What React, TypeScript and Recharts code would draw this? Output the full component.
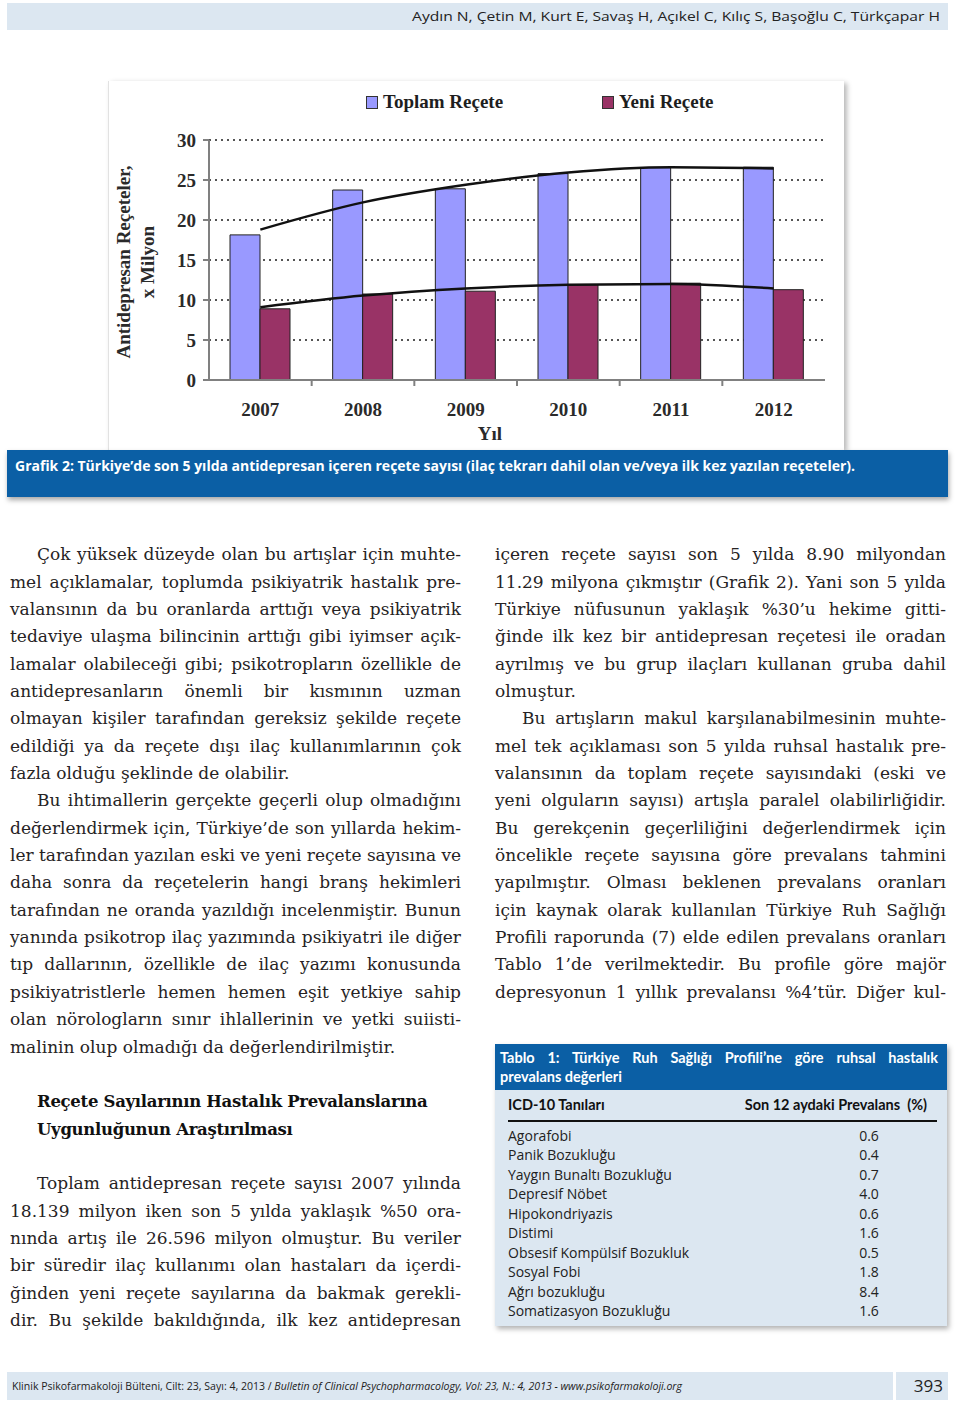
import React from 'react';
import { ComposedChart, Bar, Line, XAxis, YAxis, CartesianGrid, Legend, Label } from 'recharts';

// ---------- chart data ----------
const years = ['2007', '2008', '2009', '2010', '2011', '2012'];
const toplamRecete = [18.139, 23.75, 23.9, 25.8, 26.55, 26.596];
const yeniRecete = [8.9, 10.75, 11.1, 11.9, 12.1, 11.29];
const toplamTrend = [18.8, 22.2, 24.4, 25.95, 26.6, 26.45];
const yeniTrend = [9.1, 10.55, 11.45, 11.9, 12.0, 11.45];
const yTicks = [0, 5, 10, 15, 20, 25, 30];
const seriesNames = ['Toplam Reçete', 'Yeni Reçete'];
const seriesColors = ['#9999FF', '#993366'];
const yAxisTitle = ['Antidepresan Reçeteler,', 'x Milyon'];
const xAxisTitle = 'Yıl';

// ---------- page texts ----------
const headerText = 'Aydın N, Çetin M, Kurt E, Savaş H, Açıkel C, Kılıç S, Başoğlu C, Türkçapar H';
const captionText = 'Grafik 2: Türkiye’de son 5 yılda antidepresan içeren reçete sayısı (ilaç tekrarı dahil olan ve/veya  ilk kez yazılan reçeteler).';
const footerText1 = 'Klinik Psikofarmakoloji Bülteni, Cilt: 23, Sayı: 4, 2013 / ';
const footerText2 = 'Bulletin of Clinical Psychopharmacology, Vol: 23, N.: 4, 2013 - www.psikofarmakoloji.org';
const pageNumber = '393';

// kinds: i = indented justified, j = justified, l = last line, b = blank, h = heading
const leftLines: [string, string][] = [
  ['i', 'Çok yüksek düzeyde olan bu artışlar için muhte-'],
  ['j', 'mel açıklamalar, toplumda psikiyatrik hastalık pre-'],
  ['j', 'valansının da bu oranlarda arttığı veya psikiyatrik'],
  ['j', 'tedaviye ulaşma bilincinin arttığı gibi iyimser açık-'],
  ['j', 'lamalar olabileceği gibi; psikotropların özellikle de'],
  ['j', 'antidepresanların önemli bir kısmının uzman'],
  ['j', 'olmayan kişiler tarafından gereksiz şekilde reçete'],
  ['j', 'edildiği ya da reçete dışı ilaç kullanımlarının çok'],
  ['l', 'fazla olduğu şeklinde de olabilir.'],
  ['i', 'Bu ihtimallerin gerçekte geçerli olup olmadığını'],
  ['j', 'değerlendirmek için, Türkiye’de son yıllarda hekim-'],
  ['j', 'ler tarafından yazılan eski ve yeni reçete sayısına ve'],
  ['j', 'daha sonra da reçetelerin hangi branş hekimleri'],
  ['j', 'tarafından ne oranda yazıldığı incelenmiştir. Bunun'],
  ['j', 'yanında psikotrop ilaç yazımında psikiyatri ile diğer'],
  ['j', 'tıp dallarının, özellikle de ilaç yazımı konusunda'],
  ['j', 'psikiyatristlerle hemen hemen eşit yetkiye sahip'],
  ['j', 'olan nörologların sınır ihlallerinin ve yetki suiisti-'],
  ['l', 'malinin olup olmadığı da değerlendirilmiştir.'],
  ['b', ''],
  ['h', 'Reçete Sayılarının Hastalık Prevalanslarına'],
  ['h', 'Uygunluğunun Araştırılması'],
  ['b', ''],
  ['i', 'Toplam antidepresan reçete sayısı 2007 yılında'],
  ['j', '18.139 milyon iken son 5 yılda yaklaşık %50 ora-'],
  ['j', 'nında artış ile 26.596 milyon olmuştur. Bu veriler'],
  ['j', 'bir süredir ilaç kullanımı olan hastaları da içerdi-'],
  ['j', 'ğinden yeni reçete sayılarına da bakmak gerekli-'],
  ['j', 'dir. Bu şekilde bakıldığında, ilk kez antidepresan'],
];
const rightLines: [string, string][] = [
  ['j', 'içeren reçete sayısı son 5 yılda 8.90 milyondan'],
  ['j', '11.29 milyona çıkmıştır (Grafik 2). Yani son 5 yılda'],
  ['j', 'Türkiye nüfusunun yaklaşık %30’u hekime gitti-'],
  ['j', 'ğinde ilk kez bir antidepresan reçetesi ile oradan'],
  ['j', 'ayrılmış ve bu grup ilaçları kullanan gruba dahil'],
  ['l', 'olmuştur.'],
  ['i', 'Bu artışların makul karşılanabilmesinin muhte-'],
  ['j', 'mel tek açıklaması son 5 yılda ruhsal hastalık pre-'],
  ['j', 'valansının da toplam reçete sayısındaki (eski ve'],
  ['j', 'yeni olguların sayısı) artışla paralel olabilirliğidir.'],
  ['j', 'Bu gerekçenin geçerliliğini değerlendirmek için'],
  ['j', 'öncelikle reçete sayısına göre prevalans tahmini'],
  ['j', 'yapılmıştır. Olması beklenen prevalans oranları'],
  ['j', 'için kaynak olarak kullanılan Türkiye Ruh Sağlığı'],
  ['j', 'Profili raporunda (7) elde edilen prevalans oranları'],
  ['j', 'Tablo 1’de verilmektedir. Bu profile göre majör'],
  ['j', 'depresyonun 1 yıllık prevalansı %4’tür. Diğer kul-'],
];

// ---------- table data ----------
const tableTitle1 = 'Tablo 1: Türkiye Ruh Sağlığı Profili’ne göre ruhsal hastalık';
const tableTitle2 = 'prevalans değerleri';
const tableHead = ['ICD-10 Tanıları', 'Son 12 aydaki Prevalans  (%)'];
const diagnoses = ['Agorafobi', 'Panik Bozukluğu', 'Yaygın Bunaltı Bozukluğu', 'Depresif Nöbet', 'Hipokondriyazis', 'Distimi', 'Obsesif Kompülsif Bozukluk', 'Sosyal Fobi', 'Ağrı bozukluğu', 'Somatizasyon Bozukluğu'];
const prevalences = ['0.6', '0.4', '0.7', '4.0', '0.6', '1.6', '0.5', '1.8', '8.4', '1.6'];

const data = years.map((y, i) => ({
  year: y,
  toplam: toplamRecete[i],
  yeni: yeniRecete[i],
  toplamTrend: toplamTrend[i],
  yeniTrend: yeniTrend[i],
}));

// ---------- chart layout ----------
const CW = 735;
const CH = 369;
const LEGEND_H = 30;
const MARGIN = { top: 59 - LEGEND_H, right: 18, bottom: 30, left: 61 };
const YAXIS_W = 40;
const XAXIS_H = 40;
const PLOT_W = CW - MARGIN.left - YAXIS_W - MARGIN.right;
const BAND = PLOT_W / years.length;
const AXIS_COLOR = '#808080';
const CHART_FONT = '"Liberation Serif", "Times New Roman", serif';
const TEXT_DARK = '#2a2a2a';

const XTick = (props: any) => {
  const { x, y, payload } = props;
  const idx = years.indexOf(String(payload.value));
  return (
    <g>
      <text x={x} y={y + 36} textAnchor="middle" fontFamily={CHART_FONT} fontWeight={700} fontSize={19} fill={TEXT_DARK}>
        {payload.value}
      </text>
      {idx < years.length - 1 && (
        <line x1={x + BAND / 2} x2={x + BAND / 2} y1={y} y2={y + 6} stroke={AXIS_COLOR} strokeWidth={2} />
      )}
    </g>
  );
};

const LegendContent = () => (
  <div style={{ position: 'relative', width: CW, height: LEGEND_H, fontFamily: CHART_FONT, fontWeight: 700, fontSize: 19, color: '#1e1e1e' }}>
    {seriesNames.map((n, i) => (
      <div key={n} style={{ position: 'absolute', left: i === 0 ? 258 : 494, top: 5, display: 'flex', alignItems: 'center', height: 20 }}>
        <span style={{ display: 'inline-block', width: 10, height: 11, background: seriesColors[i], border: '1px solid #333', marginRight: 5 }} />
        <span>{n}</span>
      </div>
    ))}
  </div>
);

const YTitle = (props: any) => {
  const vb = props.viewBox || { x: MARGIN.left, y: MARGIN.top + LEGEND_H, width: YAXIS_W, height: 240 };
  const cy = vb.y + vb.height / 2 + 2;
  const x1 = vb.x - 46;
  const x2 = vb.x - 22;
  return (
    <g fontFamily={CHART_FONT} fontWeight={700} fontSize={19} fill={TEXT_DARK}>
      <text x={x1} y={cy} textAnchor="middle" dominantBaseline="central" transform={`rotate(-90 ${x1} ${cy})`}>{yAxisTitle[0]}</text>
      <text x={x2} y={cy} textAnchor="middle" dominantBaseline="central" transform={`rotate(-90 ${x2} ${cy})`}>{yAxisTitle[1]}</text>
    </g>
  );
};

const XTitle = (props: any) => {
  const vb = props.viewBox || { x: MARGIN.left + YAXIS_W, y: CH - MARGIN.bottom - XAXIS_H, width: PLOT_W, height: XAXIS_H };
  return (
    <text x={vb.x + vb.width / 2 - 27} y={vb.y + 60} textAnchor="middle" fontFamily={CHART_FONT} fontWeight={700} fontSize={19} fill={TEXT_DARK}>
      {xAxisTitle}
    </text>
  );
};

const Chart = () => (
  <ComposedChart width={CW} height={CH} data={data} margin={MARGIN} barGap={0}>
    <CartesianGrid vertical={false} stroke="#555" strokeWidth={2} strokeDasharray="2 4" />
    <Legend verticalAlign="top" align="left" height={LEGEND_H} wrapperStyle={{ top: 6, left: 0 }} content={LegendContent} />
    <XAxis dataKey="year" tick={XTick} tickLine={false} tickSize={0} tickMargin={0} height={XAXIS_H}
      axisLine={{ stroke: AXIS_COLOR, strokeWidth: 2 }} interval={0}>
      <Label content={XTitle} />
    </XAxis>
    <YAxis domain={[0, 30]} ticks={yTicks} width={YAXIS_W} interval={0}
      axisLine={{ stroke: AXIS_COLOR, strokeWidth: 2 }} tickLine={{ stroke: AXIS_COLOR, strokeWidth: 2 }}
      tickSize={6} tickMargin={7}
      tick={{ fontFamily: CHART_FONT, fontWeight: 700, fontSize: 19, fill: TEXT_DARK }}>
      <Label content={YTitle} />
    </YAxis>
    <Bar dataKey="toplam" name={seriesNames[0]} fill={seriesColors[0]} stroke="#222" strokeWidth={1} barSize={30} isAnimationActive={false} />
    <Bar dataKey="yeni" name={seriesNames[1]} fill={seriesColors[1]} stroke="#222" strokeWidth={1} barSize={30} isAnimationActive={false} />
    <Line type="monotone" dataKey="toplamTrend" stroke="#111" strokeWidth={2.5} dot={false} activeDot={false} legendType="none" isAnimationActive={false} />
    <Line type="monotone" dataKey="yeniTrend" stroke="#111" strokeWidth={2.5} dot={false} activeDot={false} legendType="none" isAnimationActive={false} />
  </ComposedChart>
);

// ---------- page parts ----------
const BODY_FONT = '"DejaVu Serif", "Liberation Serif", serif';
const LINE_H = 27.35;

const Column = ({ left, top, lines }: { left: number; top: number; lines: [string, string][] }) => (
  <div style={{ position: 'absolute', left, top, width: 451, fontFamily: BODY_FONT, fontSize: 17, color: '#262324' }}>
    {lines.map(([k, t], i) => {
      const justify = k === 'i' || k === 'j';
      return (
        <div key={i} style={{
          height: LINE_H, lineHeight: `${LINE_H}px`, whiteSpace: 'nowrap',
          paddingLeft: k === 'i' || k === 'h' ? 27 : 0,
          textAlign: justify ? 'justify' : 'left',
          textAlignLast: justify ? 'justify' : 'left',
          fontWeight: k === 'h' ? 700 : 400,
          fontSize: k === 'h' ? 16.5 : 17,
          letterSpacing: k === 'h' ? -0.3 : 0,
          color: k === 'h' ? '#111' : undefined,
        } as any}>{t || '\u00a0'}</div>
      );
    })}
  </div>
);

const BLUE = '#0b5fa5';
const LIGHT = '#dce7f1';

export default function App() {
  return (
    <div style={{ position: 'absolute', left: 0, top: 0, width: 960, height: 1403, background: '#fff', overflow: 'hidden' }}>
      {/* header */}
      <div style={{ position: 'absolute', left: 7, top: 3, width: 941, height: 27, background: LIGHT }}>
        <svg width={941} height={27} style={{ display: 'block' }}>
          <text x={933} y={18} textAnchor="end" fontFamily='"Open Sans", sans-serif' fontSize={13} fill="#222" textLength={528} lengthAdjust="spacingAndGlyphs">{headerText}</text>
        </svg>
      </div>

      {/* chart box */}
      <div style={{ position: 'absolute', left: 108, top: 81, width: CW, height: CH, background: '#fff', borderLeft: '1px solid #e2e2e2', boxShadow: '3px 2px 5px rgba(0,0,0,0.28)' }}>
        <div style={{ position: 'absolute', left: -1, top: 0 }}>
          <Chart />
        </div>
      </div>

      {/* caption */}
      <div style={{ position: 'absolute', left: 7, top: 450, width: 941, height: 47, background: BLUE, boxShadow: '1px 3px 5px rgba(0,0,0,0.35)' }}>
        <svg width={941} height={47} style={{ display: 'block' }}>
          <text x={8} y={21} fontFamily='"Open Sans", sans-serif' fontWeight={700} fontSize={14} fill="#fff" textLength={840} lengthAdjust="spacingAndGlyphs">{captionText}</text>
        </svg>
      </div>

      {/* body text */}
      <Column left={10} top={555 - LINE_H / 2} lines={leftLines} />
      <Column left={495} top={555 - LINE_H / 2} lines={rightLines} />

      {/* table */}
      <div style={{ position: 'absolute', left: 495, top: 1044, width: 452, height: 282, background: LIGHT, boxShadow: '2px 3px 5px rgba(0,0,0,0.3)' }}>
        <div style={{ position: 'absolute', left: 0, top: 0, width: 452, height: 46, background: BLUE, color: '#fff', fontFamily: 'Lato, sans-serif', fontWeight: 700, fontSize: 14.5 }}>
          <div style={{ position: 'absolute', left: 5, top: 4, width: 438, height: 20, lineHeight: '20px', whiteSpace: 'nowrap', textAlign: 'justify', textAlignLast: 'justify' } as any}>{tableTitle1}</div>
          <div style={{ position: 'absolute', left: 5, top: 23, height: 20, lineHeight: '20px', whiteSpace: 'nowrap' }}>{tableTitle2}</div>
        </div>
        <div style={{ position: 'absolute', left: 13, top: 51, width: 424, height: 20, lineHeight: '20px', fontFamily: 'Lato, sans-serif', fontWeight: 700, fontSize: 14.5, color: '#111', whiteSpace: 'nowrap' }}>
          <span>{tableHead[0]}</span>
          <span style={{ position: 'absolute', right: 5, top: 0, whiteSpace: 'pre' }}>{tableHead[1]}</span>
        </div>
        <div style={{ position: 'absolute', left: 13, top: 76, width: 429, height: 2, background: '#111' }} />
        {diagnoses.map((d, i) => (
          <div key={d} style={{ position: 'absolute', left: 13, top: 81.5 + i * 19.5, width: 424, height: 19.5, lineHeight: '19.5px', fontFamily: '"Open Sans", sans-serif', fontSize: 14, color: '#222', whiteSpace: 'nowrap' }}>
            <span>{d}</span>
            <span style={{ position: 'absolute', left: 341, top: 0, width: 40, textAlign: 'center' }}>{prevalences[i]}</span>
          </div>
        ))}
      </div>

      {/* footer */}
      <div style={{ position: 'absolute', left: 7, top: 1372, width: 886, height: 28, background: LIGHT }}>
        <svg width={886} height={28} style={{ display: 'block' }}>
          <text x={5} y={18} fontFamily='"Open Sans", sans-serif' fontSize={11} fill="#222" textLength={670} lengthAdjust="spacingAndGlyphs">
            <tspan>{footerText1}</tspan>
            <tspan fontStyle="italic">{footerText2}</tspan>
          </text>
        </svg>
      </div>
      <div style={{ position: 'absolute', left: 896, top: 1372, width: 52, height: 28, background: LIGHT }}>
        <svg width={52} height={28} style={{ display: 'block' }}>
          <text x={47} y={20} textAnchor="end" fontFamily='"Open Sans", sans-serif' fontSize={17} fill="#222">{pageNumber}</text>
        </svg>
      </div>
    </div>
  );
}
